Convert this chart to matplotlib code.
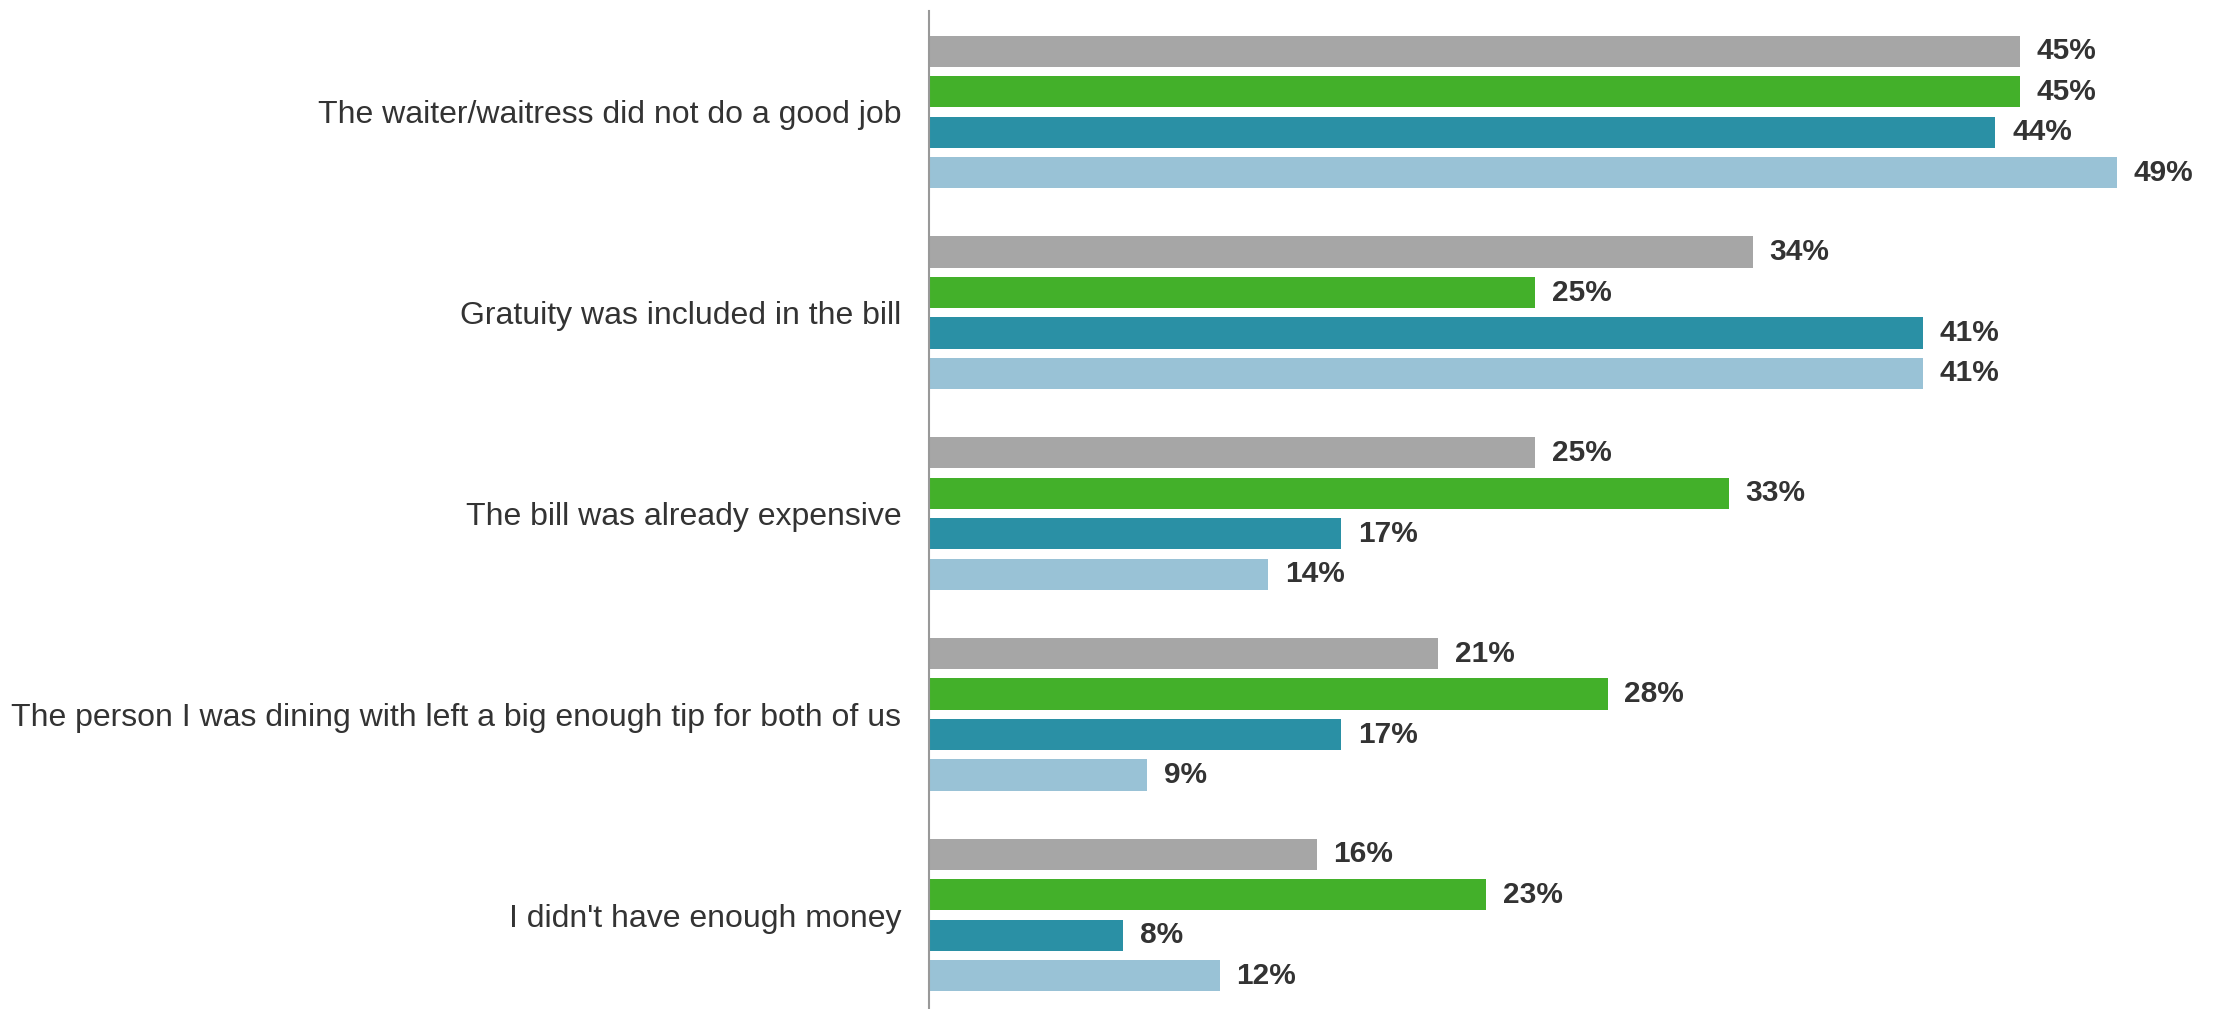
import matplotlib.pyplot as plt
import numpy as np

plt.rcParams['font.family'] = ['Liberation Sans', 'DejaVu Sans']

reasons = ["The waiter/waitress did not do a good job",
           "Gratuity was included in the bill",
           "The bill was already expensive",
           "The person I was dining with left a big enough tip for both of us",
           "I didn't have enough money"]

# four series per reason, top to bottom inside each group
grey_vals = [45, 34, 25, 21, 16]
green_vals = [45, 25, 33, 28, 23]
teal_vals = [44, 41, 17, 17, 8]
light_vals = [49, 41, 14, 9, 12]

series = [grey_vals, green_vals, teal_vals, light_vals]
colors = ["#A6A6A6", "#43B02A", "#2A90A5", "#99C2D6"]

fig = plt.figure(figsize=(22.28, 10.09), dpi=100)
ax = fig.add_axes([929 / 2228, 0.0, 1 - 929 / 2228, 1 - 11 / 1009])

y = np.arange(len(reasons))
step = 0.2017
height = 0.155
offsets = (np.arange(4) - 1.5) * step

for vals, off, col in zip(series, offsets, colors):
    bars = ax.barh(y + off, vals, height=height, color=col)
    for b, v in zip(bars, vals):
        ax.annotate(f"{v}%", (b.get_width(), b.get_y() + b.get_height() / 2),
                    xytext=(12, 0), textcoords="offset points",
                    va="center", ha="left", fontsize=21.5, fontweight="bold",
                    color="#333333")

ax.set_xlim(0, 53.6)
ax.set_ylim(4.468, -0.503)
ax.set_yticks(y)
ax.set_yticklabels(reasons, fontsize=23, color="#333333")
ax.tick_params(axis="y", length=0, pad=20)
ax.set_xticks([])

for s in ["top", "right", "bottom"]:
    ax.spines[s].set_visible(False)
ax.spines["left"].set_color("#999999")
ax.spines["left"].set_linewidth(1.5)

fig.savefig("out.png", dpi=100)
